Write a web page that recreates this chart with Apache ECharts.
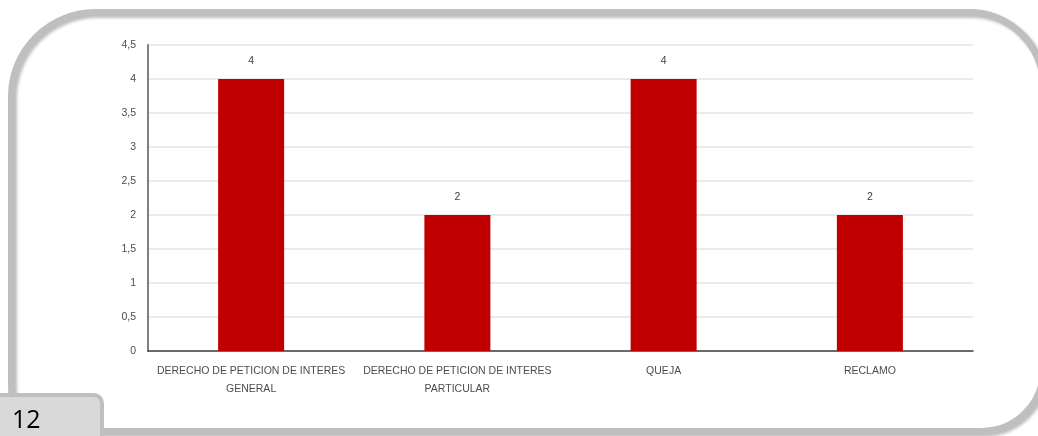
<!DOCTYPE html>
<html>
<head>
<meta charset="utf-8">
<script src="https://cdn.jsdelivr.net/npm/echarts@6/dist/echarts.min.js"></script>
<style>
html,body{margin:0;padding:0;background:#fff;}
#chart{width:1038px;height:436px;}
</style>
</head>
<body>
<div id="chart"></div>
<script>
var categories = ['DERECHO DE PETICION DE INTERES\nGENERAL', 'DERECHO DE PETICION DE INTERES\nPARTICULAR', 'QUEJA', 'RECLAMO'];
var values = [4, 2, 4, 2];
var pageNumber = '12';

var chart = echarts.init(document.getElementById('chart'));
chart.setOption({
  animation: false,
  backgroundColor: '#ffffff',
  grid: { left: 148, right: 65, top: 45, bottom: 85, containLabel: false },
  xAxis: {
    type: 'category',
    data: categories,
    axisLine: { show: true, lineStyle: { color: '#404040', width: 1.5 } },
    axisTick: { show: false },
    axisLabel: {
      color: '#4d4d4d', fontSize: 10.5, fontFamily: 'Liberation Sans, Arial, sans-serif',
      lineHeight: 18, margin: 11, interval: 0
    }
  },
  yAxis: {
    type: 'value',
    min: 0, max: 4.5, interval: 0.5,
    axisLine: { show: true, lineStyle: { color: '#808080', width: 2 } },
    axisTick: { show: false },
    splitLine: { lineStyle: { color: '#e3e3e3', width: 1.5 } },
    axisLabel: {
      color: '#4d4d4d', fontSize: 10.5, fontFamily: 'Liberation Sans, Arial, sans-serif',
      margin: 12,
      formatter: function (v) { return String(v).replace('.', ','); }
    }
  },
  series: [{
    type: 'bar',
    data: values,
    barWidth: 66,
    itemStyle: { color: '#c00000' },
    label: {
      show: true, position: 'top', distance: 12,
      color: '#404040', fontSize: 10.5, fontFamily: 'Liberation Sans, Arial, sans-serif'
    }
  }],
  graphic: [
    {
      type: 'rect', z: 100, silent: true,
      shape: { x: 11.5, y: 12.5, width: 1032, height: 419, r: [84, 74, 62, 45] },
      style: { fill: 'none', stroke: '#bfbfbf', lineWidth: 7,
               shadowColor: 'rgba(0,0,0,0.25)', shadowBlur: 3, shadowOffsetX: 2, shadowOffsetY: 2 }
    },
    {
      type: 'rect', z: 110, silent: true,
      shape: { x: -6, y: 395, width: 108, height: 50, r: [0, 8, 0, 0] },
      style: { fill: '#d9d9d9', stroke: '#bfbfbf', lineWidth: 4 }
    },
    {
      type: 'text', z: 120, silent: true,
      left: 12, top: 408,
      style: { text: pageNumber, fill: '#000000', fontSize: 25, fontFamily: 'Open Sans, Liberation Sans, sans-serif' }
    }
  ]
});
</script>
</body>
</html>
